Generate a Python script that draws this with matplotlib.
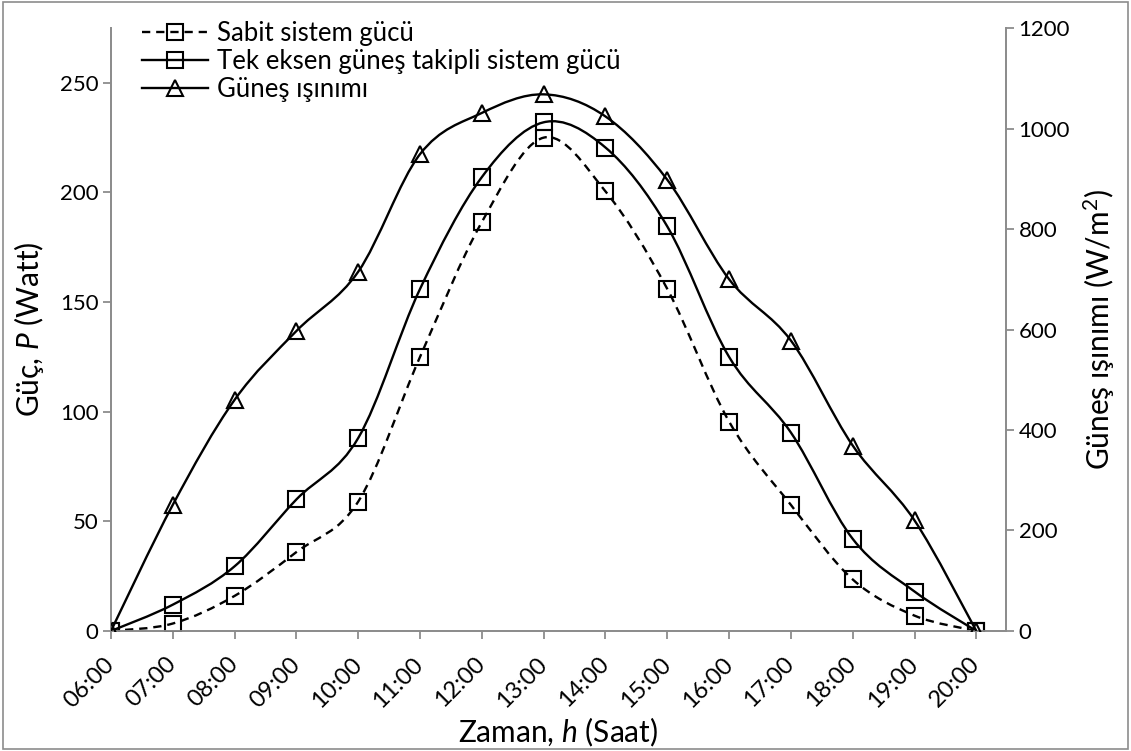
import matplotlib
matplotlib.use("Agg")
import matplotlib.pyplot as plt
from matplotlib.path import Path
from matplotlib.patches import PathPatch, Rectangle
from matplotlib.lines import Line2D

plt.rcParams['font.family'] = ['Lato', 'DejaVu Sans']
plt.rcParams['mathtext.fontset'] = 'custom'
plt.rcParams['mathtext.rm'] = 'Lato'
plt.rcParams['mathtext.it'] = 'Lato:italic'

hours = ["06:00", "07:00", "08:00", "09:00", "10:00", "11:00", "12:00", "13:00",
         "14:00", "15:00", "16:00", "17:00", "18:00", "19:00", "20:00"]
fixed_power = [0, 3.4, 16, 36, 59, 125, 186.5, 225, 200.5, 156, 95.5, 57.5, 23.5, 7, 0]
tracking_power = [0, 12, 29.5, 60, 88, 156, 207, 232, 220.5, 184.5, 125, 90.5, 42, 18, 0]
irradiance = [0, 251, 460, 597, 715, 949, 1031, 1068, 1024, 898, 700, 578, 369, 220, 0]

labels = ["Sabit sistem gücü", "Tek eksen güneş takipli sistem gücü", "Güneş ışınımı"]

AXIS_GREY = '#8c8c8c'
DASH = (0, (3.5, 2.5))


def smooth_path(xs, ys):
    """Cardinal (Catmull-Rom) Bezier path through the points, like a smoothed line."""
    pts = list(zip(xs, ys))
    n = len(pts)
    verts = [pts[0]]
    codes = [Path.MOVETO]
    for i in range(n - 1):
        p0 = pts[i - 1] if i > 0 else pts[i]
        p1 = pts[i]
        p2 = pts[i + 1]
        p3 = pts[i + 2] if i + 2 < n else pts[i + 1]
        c1 = (p1[0] + (p2[0] - p0[0]) / 6.0, p1[1] + (p2[1] - p0[1]) / 6.0)
        c2 = (p2[0] - (p3[0] - p1[0]) / 6.0, p2[1] - (p3[1] - p1[1]) / 6.0)
        verts += [c1, c2, p2]
        codes += [Path.CURVE4] * 3
    return Path(verts, codes)


fig = plt.figure(figsize=(11.31, 7.51), dpi=100)
ax = fig.add_axes([0.0981, 0.1598, 0.7914, 0.8029])
ax2 = ax.twinx()

x = list(range(len(hours)))
lw = 1.7
ms = 12
mew = 1.5

# power curves (left axis)
ax.add_patch(PathPatch(smooth_path(x, fixed_power), fill=False, lw=lw,
                       ls=DASH, color='black', zorder=3))
ax.plot(x, fixed_power, ls='none', marker='s', ms=ms, mfc='none', mec='black',
        mew=mew, zorder=4)
ax.add_patch(PathPatch(smooth_path(x, tracking_power), fill=False, lw=lw,
                       color='black', zorder=3))
ax.plot(x, tracking_power, ls='none', marker='s', ms=ms, mfc='none', mec='black',
        mew=mew, zorder=4)

# irradiance (right axis)
ax2.add_patch(PathPatch(smooth_path(x, irradiance), fill=False, lw=lw,
                        color='black', zorder=3))
ax2.plot(x, irradiance, ls='none', marker='^', ms=ms, mfc='none', mec='black',
         mew=mew, zorder=4)

ax.set_xlim(0, 14.48)
ax.set_ylim(0, 275)
ax2.set_ylim(0, 1200)
ax.set_yticks(range(0, 251, 50))
ax2.set_yticks(range(0, 1201, 200))
ax.set_xticks(x)
ax.set_xticklabels(hours, rotation=45, ha='right', va='center', rotation_mode='anchor')

for a in (ax, ax2):
    for s in a.spines.values():
        s.set_color(AXIS_GREY)
        s.set_linewidth(1.3)
    a.spines['top'].set_visible(False)
    a.tick_params(colors=AXIS_GREY, labelcolor='black', length=5.5, width=1.3,
                  direction='out', labelsize=16)
ax.tick_params(axis='x', labelsize=17, pad=16)

ax.set_ylabel("Güç, $\\mathit{P}$ (Watt)", fontsize=21.5, labelpad=10)
ax2.set_ylabel("Güneş ışınımı (W/m$^2$)", fontsize=21.5, labelpad=8)
ax.set_xlabel("Zaman, $\\mathit{h}$ (Saat)", fontsize=21.5, labelpad=3)

handles = [
    Line2D([], [], color='black', lw=lw, ls=DASH, marker='s', ms=ms,
           mfc='none', mew=mew),
    Line2D([], [], color='black', lw=lw, marker='s', ms=ms, mfc='none', mew=mew),
    Line2D([], [], color='black', lw=lw, marker='^', ms=ms, mfc='none', mew=mew),
]
ax.legend(handles, labels, loc='upper left', bbox_to_anchor=(0.0235, 1.028),
          frameon=False, fontsize=18.5, handlelength=2.57, handletextpad=0.35,
          labelspacing=0.1, borderaxespad=0)

fig.patches.append(Rectangle((0.003, 0.003), 0.994, 0.994, transform=fig.transFigure,
                             fill=False, edgecolor=AXIS_GREY, lw=1.2))

fig.savefig("out.png", dpi=100)
